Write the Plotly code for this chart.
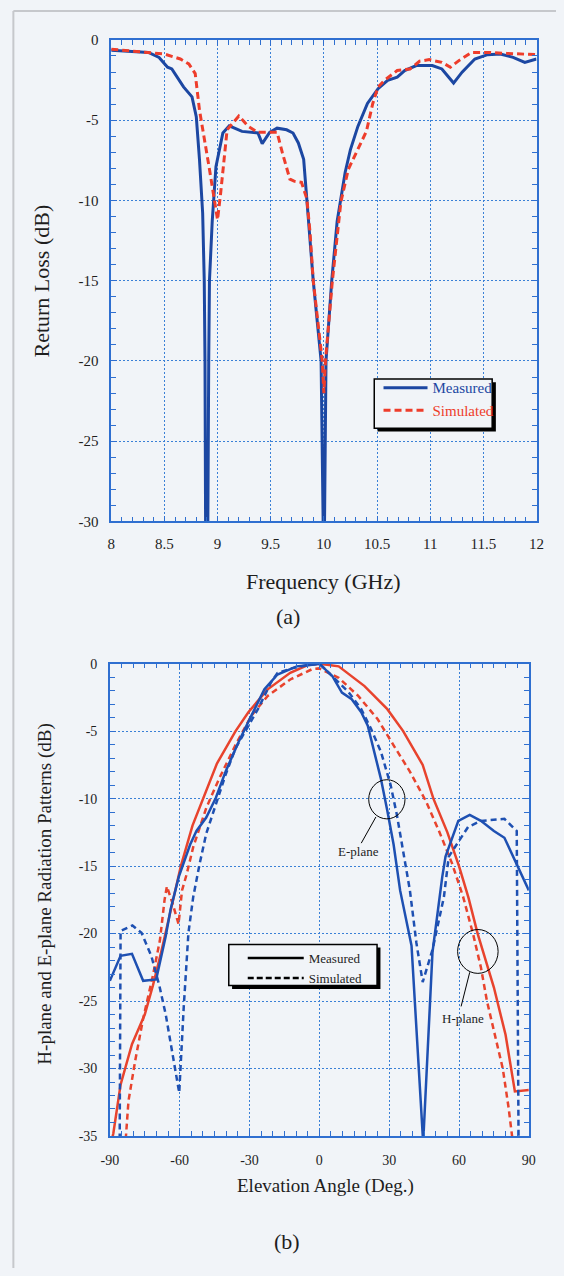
import plotly.graph_objects as go

# ---------------- (a) Return loss data ----------------
freq_measured = [8.00, 8.35, 8.45, 8.50, 8.53, 8.57, 8.68, 8.76, 8.80, 8.83, 8.86, 8.875, 8.882, 8.888,
                 8.908, 8.917, 8.924, 8.95, 8.985, 9.05, 9.11, 9.23, 9.38, 9.42, 9.49, 9.56, 9.65, 9.71,
                 9.76, 9.81, 9.84, 9.90, 9.974, 9.995, 10.005, 10.02, 10.074, 10.125, 10.20, 10.25, 10.32,
                 10.41, 10.51, 10.60, 10.69, 10.76, 10.87, 11.02, 11.11, 11.22, 11.30, 11.42, 11.54, 11.66,
                 11.78, 11.89, 12.00]
rl_measured = [-0.65, -0.78, -1.09, -1.45, -1.70, -1.81, -2.93, -3.55, -4.78, -7.44, -10.8, -15.0, -20.0, -31.0,
               -31.0, -20.0, -15.0, -11.3, -7.9, -5.8, -5.35, -5.7, -5.8, -6.46, -5.76, -5.5, -5.6, -5.8,
               -6.42, -7.44, -10.0, -15.0, -20.0, -31.0, -31.0, -20.0, -15.0, -11.3, -8.26, -6.83, -5.39,
               -3.96, -3.04, -2.52, -2.32, -1.91, -1.6, -1.6, -1.81, -2.69, -2.01, -1.19, -0.92, -0.88,
               -1.09, -1.4, -1.19]

freq_simulated = [8.00, 8.25, 8.50, 8.65, 8.73, 8.79, 8.83, 8.924, 8.97, 9.00, 9.03, 9.06, 9.09, 9.20, 9.29,
                  9.38, 9.56, 9.61, 9.68, 9.72, 9.79, 9.84, 9.87, 9.90, 9.985, 10.00, 10.015, 10.08, 10.125,
                  10.16, 10.23, 10.32, 10.40, 10.46, 10.51, 10.57, 10.69, 10.81, 10.90, 10.99, 11.11, 11.19,
                  11.27, 11.39, 11.54, 11.72, 12.00]
rl_simulated = [-0.58, -0.72, -0.88, -1.19, -1.5, -2.1, -4.37, -8.06, -10.1, -11.2, -9.5, -7.44, -5.6, -4.74,
                -5.39, -5.76, -5.76, -7.04, -8.67, -8.8, -8.88, -9.9, -12.0, -15.0, -20.0, -22.0, -20.0, -15.0,
                -12.0, -10.1, -8.06, -6.83, -5.7, -3.96, -2.93, -2.52, -1.91, -1.81, -1.33, -1.23, -1.4, -1.7,
                -1.29, -0.78, -0.78, -0.84, -0.92]

freq_ticks = [8, 8.5, 9, 9.5, 10, 10.5, 11, 11.5, 12]
freq_ticklabels = ["8", "8.5", "9", "9.5", "10", "10.5", "11", "11.5", "12"]
rl_ticks = [0, -5, -10, -15, -20, -25, -30]
rl_ticklabels = ["0", "-5", "-10", "-15", "-20", "-25", "-30"]

# ---------------- (b) Radiation pattern data ----------------
h_meas_angle = [-90, -88.5, -85.4, -80.5, -75, -71.5, -68, -63.9, -59.5, -54.5, -50, -44, -36, -30.5, -22.2,
                -12.5, -5, 0, 8.3, 19.4, 29.2, 36, 44.4, 49, 55, 60, 64, 68, 75, 80, 84, 90]
h_meas_db = [-36, -34.8, -31.2, -28.2, -26, -23.85, -21.4, -18.2, -15.0, -12.0, -10.0, -7.4, -5.0, -3.6, -1.9,
             -0.68, -0.1, 0, -0.2, -1.66, -3.37, -5.0, -7.5, -10.0, -12.5, -15.0, -17.3, -20.0, -24.0, -27.5,
             -31.7, -31.6]

h_sim_angle = [-83.5, -82, -79.2, -75.7, -71.5, -68.5, -66.5, -65.5, -63, -60.5, -59, -57, -54.2, -48.6, -43,
               -36.1, -29.2, -22.2, -12.5, -3, 0, 8.3, 16.7, 25, 31.9, 38.9, 45.8, 51.4, 57, 61.8, 66, 69.4,
               72, 75, 78.8, 81.3, 82.6, 83.5]
h_sim_db = [-36, -32.4, -29.5, -26.3, -23.1, -20.5, -17.5, -16.5, -17.8, -19.3, -16.8, -15.6, -13.6, -10.7,
            -8.5, -6.05, -3.85, -2.39, -1.17, -0.4, -0.35, -1.05, -2.39, -4.1, -6.05, -8.0, -10.2, -12.4,
            -14.8, -17.3, -20.0, -22.5, -25.0, -27.3, -30.0, -32.9, -34.8, -36]

e_meas_angle = [-90, -85.4, -80.5, -75.7, -70.1, -66, -63.9, -60.4, -55.5, -52.8, -48.6, -44.5, -40.3, -34.7,
                -29.2, -23.6, -18, -9.7, -4, 0, 5.6, 9.7, 13.9, 18, 20.8, 23.6, 26.4, 29.2, 31.9, 34.7, 39.6,
                44.6, 48.6, 52.8, 54.2, 59.7, 64.6, 69.4, 75, 79.5, 90]
e_meas_db = [-23.5, -21.65, -21.5, -23.5, -23.4, -20.2, -18.2, -15.8, -13.4, -12.4, -11.4, -9.95, -8.0, -5.8,
             -3.85, -1.9, -0.8, -0.2, -0.1, 0, -0.93, -2.14, -2.63, -3.6, -4.6, -6.5, -8.5, -10.9, -13.4,
             -16.8, -20.9, -35.5, -21.4, -15.8, -14.3, -11.65, -11.2, -11.65, -12.4, -12.9, -16.8]

e_sim_angle = [-85.8, -85.4, -80.3, -76.4, -72.2, -68.75, -66, -62.5, -60.2, -58.3, -56.25, -54.2, -51.4, -48.6,
               -44.5, -40.3, -36.1, -32, -26.4, -20.8, -18, -12, -5, 0, 7, 12.5, 18, 22.2, 26.4, 30.6, 33.3,
               36.1, 38.9, 41.7, 44.4, 48.6, 53.5, 55.6, 63.9, 69.4, 79.5, 84.8, 85.6]
e_sim_db = [-36, -19.8, -19.4, -19.95, -21.65, -23.85, -26, -29.5, -31.8, -25.55, -19.95, -17.3, -14.8, -12.6,
            -10.4, -8.24, -6.3, -5.07, -3.37, -1.4, -0.7, -0.35, -0.1, 0, -1.17, -2.1, -3.37, -4.83, -6.5,
            -8.98, -11.2, -13.85, -16.8, -20.7, -23.6, -21.2, -17.3, -14.3, -12.1, -11.65, -11.5, -12.4, -36]

angle_ticks = [-90, -60, -30, 0, 30, 60, 90]
angle_ticklabels = ["-90", "-60", "-30", "0", "30", "60", "90"]
pattern_ticks = [0, -5, -10, -15, -20, -25, -30, -35]
pattern_ticklabels = ["0", "-5", "-10", "-15", "-20", "-25", "-30", "-35"]

# ---------------- styling ----------------
W, H = 564, 1276
BG = "#f1f4f8"
AXIS = "#2f6fd0"
GRID = "#3a80d6"
TXT = "#1e1e1e"
SERIF = "Liberation Serif"
BLUE_A, RED_A = "#1c47a2", "#ee3d2b"
BLUE_B, RED_B = "#1e50b2", "#e8432d"


def px(x):
    return x / W


def py(y):
    return 1 - y / H


fig = go.Figure()

# (a)
fig.add_trace(go.Scatter(x=freq_measured, y=rl_measured, mode="lines", xaxis="x", yaxis="y",
                         name="<span style='color:%s'>Measured</span>" % BLUE_A,
                         line=dict(color=BLUE_A, width=3), legend="legend"))
fig.add_trace(go.Scatter(x=freq_simulated, y=rl_simulated, mode="lines", xaxis="x", yaxis="y",
                         name="<span style='color:%s'>Simulated</span>" % RED_A,
                         line=dict(color=RED_A, width=3, dash="7px,4px"), legend="legend"))

# (b)
fig.add_trace(go.Scatter(x=h_meas_angle, y=h_meas_db, mode="lines", xaxis="x2", yaxis="y2",
                         name="H-plane measured", showlegend=False,
                         line=dict(color=RED_B, width=2.5)))
fig.add_trace(go.Scatter(x=h_sim_angle, y=h_sim_db, mode="lines", xaxis="x2", yaxis="y2",
                         name="H-plane simulated", showlegend=False,
                         line=dict(color=RED_B, width=2.5, dash="6px,4px")))
fig.add_trace(go.Scatter(x=e_meas_angle, y=e_meas_db, mode="lines", xaxis="x2", yaxis="y2",
                         name="E-plane measured", showlegend=False,
                         line=dict(color=BLUE_B, width=2.5)))
fig.add_trace(go.Scatter(x=e_sim_angle, y=e_sim_db, mode="lines", xaxis="x2", yaxis="y2",
                         name="E-plane simulated", showlegend=False,
                         line=dict(color=BLUE_B, width=2.5, dash="6px,4px")))
# legend keys for (b)
fig.add_trace(go.Scatter(x=[None], y=[None], mode="lines", xaxis="x2", yaxis="y2", name="Measured",
                         line=dict(color="black", width=2.5), legend="legend2"))
fig.add_trace(go.Scatter(x=[None], y=[None], mode="lines", xaxis="x2", yaxis="y2", name="Simulated",
                         line=dict(color="black", width=2.5, dash="6px,3px"), legend="legend2"))


def axis_common(tickfont_size, standoff):
    return dict(showline=True, linecolor=AXIS, linewidth=1.5, mirror="ticks",
                ticks="inside", ticklen=6, tickwidth=1, tickcolor=AXIS,
                showgrid=True, gridcolor=GRID, gridwidth=1, griddash="2px,2px",
                zeroline=False, tickmode="array",
                tickfont=dict(family=SERIF, size=tickfont_size, color=TXT),
                ticklabelstandoff=standoff)


xa = axis_common(15, 8)
xa.update(domain=[px(105.4), px(543.9)], range=[8, 12], tickvals=freq_ticks, ticktext=freq_ticklabels,
          anchor="y", minor=dict(dtick=0.1, tick0=8, ticks="inside", ticklen=5, tickcolor=AXIS, showgrid=False))
ya = axis_common(15, 8)
ya.update(domain=[py(520), py(32.3)], range=[-30, 0], tickvals=rl_ticks, ticktext=rl_ticklabels,
          anchor="x", minor=dict(dtick=1, tick0=0, ticks="inside", ticklen=5, tickcolor=AXIS, showgrid=False))
xb = axis_common(14, 10)
xb.update(domain=[px(104), px(536)], range=[-90, 90], tickvals=angle_ticks, ticktext=angle_ticklabels,
          anchor="y2", minor=dict(dtick=5, tick0=-90, ticks="inside", ticklen=5, tickcolor=AXIS, showgrid=False))
yb = axis_common(14, 8)
yb.update(domain=[py(1142.3), py(664)], range=[-35, 0], tickvals=pattern_ticks, ticktext=pattern_ticklabels,
          anchor="x2", minor=dict(dtick=1, tick0=0, ticks="inside", ticklen=5, tickcolor=AXIS, showgrid=False))

shapes = [
    # scanned page edges
    dict(type="line", xref="paper", yref="paper", x0=px(4.5), x1=px(4.5), y0=0, y1=py(3), layer="above",
         line=dict(color="#c6c8cc", width=2)),
    dict(type="line", xref="paper", yref="paper", x0=px(4.5), x1=1, y0=py(3), y1=py(3), layer="above",
         line=dict(color="#c6c8cc", width=2)),
    # legend (a) box with shadow
    dict(type="rect", xref="paper", yref="paper", x0=px(380), x1=px(502), y0=py(429), y1=py(379),
         layer="above", fillcolor="black", line=dict(width=0)),
    dict(type="rect", xref="paper", yref="paper", x0=px(376.6), x1=px(498.2), y0=py(425.7), y1=py(375.7),
         layer="above", fillcolor=BG, line=dict(color="black", width=1.5)),
    # legend (b) box with shadow
    dict(type="rect", xref="paper", yref="paper", x0=px(230), x1=px(383), y0=py(993.5), y1=py(951.5),
         layer="above", fillcolor="black", line=dict(width=0)),
    dict(type="rect", xref="paper", yref="paper", x0=px(226.6), x1=px(379.5), y0=py(990), y1=py(948.3),
         layer="above", fillcolor=BG, line=dict(color="black", width=1.5)),
    # E-plane marker circle and leader
    dict(type="circle", xref="x2", yref="y2", x0=21.2, x1=36.8, y0=-11.5, y1=-8.6,
         line=dict(color="black", width=1)),
    dict(type="line", xref="x2", yref="y2", x0=24.3, y0=-11.36, x1=18.0, y1=-13.3,
         line=dict(color="black", width=1)),
    # H-plane marker circle and leader
    dict(type="circle", xref="x2", yref="y2", x0=59.4, x1=76.8, y0=-22.95, y1=-19.7,
         line=dict(color="black", width=1)),
    dict(type="line", xref="x2", yref="y2", x0=64.6, y0=-22.87, x1=60.9, y1=-25.4,
         line=dict(color="black", width=1)),
]

annotations = [
    dict(text="Return Loss (dB)", xref="paper", yref="paper", x=px(34), y=py(276), textangle=-90,
         showarrow=False, font=dict(family=SERIF, size=22, color=TXT), xanchor="center", yanchor="middle"),
    dict(text="Frequency (GHz)", xref="paper", yref="paper", x=px(324.7), y=py(581), showarrow=False,
         font=dict(family=SERIF, size=22, color=TXT), xanchor="center", yanchor="middle"),
    dict(text="(a)", xref="paper", yref="paper", x=px(288), y=py(616), showarrow=False,
         font=dict(family=SERIF, size=22, color=TXT), xanchor="center", yanchor="middle"),
    dict(text="H-plane and E-plane Radiation Patterns (dB)", xref="paper", yref="paper", x=px(37), y=py(897),
         textangle=-90, showarrow=False, font=dict(family=SERIF, size=19, color=TXT),
         xanchor="center", yanchor="middle"),
    dict(text="Elevation Angle (Deg.)", xref="paper", yref="paper", x=px(326), y=py(1193), showarrow=False,
         font=dict(family=SERIF, size=19, color=TXT), xanchor="center", yanchor="middle"),
    dict(text="(b)", xref="paper", yref="paper", x=px(287), y=py(1249), showarrow=False,
         font=dict(family=SERIF, size=22, color=TXT), xanchor="center", yanchor="middle"),
    dict(text="E-plane", xref="x2", yref="y2", x=16.7, y=-13.9, showarrow=False,
         font=dict(family=SERIF, size=13, color=TXT), xanchor="center", yanchor="middle"),
    dict(text="H-plane", xref="x2", yref="y2", x=61.8, y=-26.3, showarrow=False,
         font=dict(family=SERIF, size=13, color=TXT), xanchor="center", yanchor="middle"),
]

fig.update_layout(
    width=W, height=H, margin=dict(l=0, r=0, t=0, b=0),
    paper_bgcolor=BG, plot_bgcolor=BG,
    xaxis=xa, yaxis=ya, xaxis2=xb, yaxis2=yb,
    shapes=shapes, annotations=annotations,
    legend=dict(x=px(381), y=py(368), xanchor="left", yanchor="top", bgcolor="rgba(0,0,0,0)",
                borderwidth=0, itemwidth=44, font=dict(family=SERIF, size=15, color=TXT),
                tracegroupgap=0),
    legend2=dict(x=px(241), y=py(947), xanchor="left", yanchor="top", bgcolor="rgba(0,0,0,0)",
                 borderwidth=0, itemwidth=56, font=dict(family=SERIF, size=13, color=TXT),
                 tracegroupgap=0),
    showlegend=True,
)

fig.write_html(
    "out.html",
    config={"displayModeBar": False},
    post_script="document.body.style.margin='0';document.body.style.overflow='hidden';"
                "document.body.style.background='%s';" % BG,
)
